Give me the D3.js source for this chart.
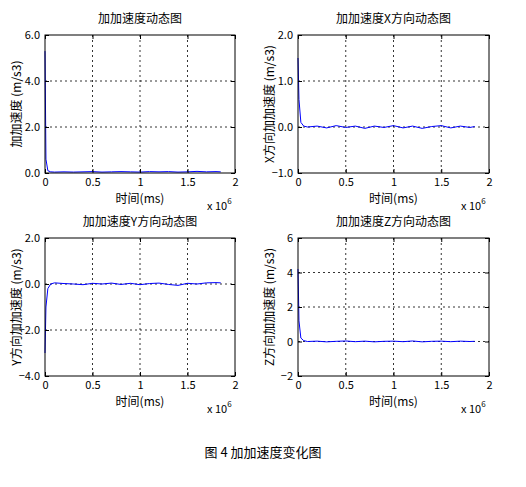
<!DOCTYPE html><html><head><meta charset="utf-8">
<script src="https://d3js.org/d3.v7.min.js"></script>
<style>body{margin:0;background:#fff}text{font-family:"Noto Sans CJK SC","Liberation Sans",sans-serif}</style></head><body>
<svg id="c" width="526" height="487"></svg>
<script>
const xTicks=[0,0.5,1,1.5,2];
const titles=["加加速度动态图","加加速度X方向动态图","加加速度Y方向动态图","加加速度Z方向动态图"];
const yLabels=["加加速度 (m/s3)","X方向加加速度 (m/s3)","Y方向加加速度 (m/s3)","Z方向加加速度 (m/s3)"];
const yDomains=[[0,6],[-1,2],[-4,2],[-2,6]];
const yTicks=[[0,2,4,6],[-1,0,1,2],[-4,-2,0,2],[-2,0,2,4,6]];
const xs=[0,0.01,0.03,0.06,0.1,0.2,0.3,0.4,0.5,0.6,0.7,0.8,0.9,1.0,1.1,1.2,1.3,1.4,1.5,1.6,1.7,1.8,1.85];
const s0=[5.3,0.6,0.1,0.05,0.04,0.05,0.04,0.05,0.06,0.04,0.05,0.06,0.05,0.04,0.06,0.05,0.06,0.04,0.05,0.07,0.05,0.06,0.05];
const s1=[1.5,0.6,0.1,0.02,0.0,0.02,-0.02,0.03,-0.01,0.02,-0.03,0.02,-0.01,0.03,-0.02,0.02,-0.03,0.01,0.03,-0.02,0.02,-0.01,0.01];
const s2=[-3.0,-1.0,-0.2,0.0,0.05,0.02,0.0,-0.03,0.03,0.0,0.04,-0.02,0.03,-0.03,0.02,0.04,-0.02,-0.06,0.03,0.0,0.05,0.06,0.05];
const s3=[4.2,1.2,0.2,0.05,0.0,0.02,-0.02,0.01,0.03,-0.01,0.02,-0.02,0.01,0.02,-0.01,0.03,-0.02,0.01,0.02,-0.01,0.02,0.0,0.01];
const series=[s0,s1,s2,s3];
const svg=d3.select("#c");
const boxes=[[45,235,35,173],[298,489,35,173],[45,235,238,376],[298,489,238,376]];
boxes.forEach((b,i)=>{
 const [x0,x1,y0,y1]=b;
 const x=d3.scaleLinear().domain([0,2]).range([x0,x1]);
 const y=d3.scaleLinear().domain(yDomains[i]).range([y1,y0]);
 const g=svg.append("g");
 xTicks.forEach(t=>{ if(t>0&&t<2) g.append("line").attr("x1",x(t)).attr("x2",x(t)).attr("y1",y0).attr("y2",y1).attr("stroke","#000").attr("stroke-dasharray","2,3").attr("stroke-width",0.8);});
 yTicks[i].forEach(t=>{ if(t>yDomains[i][0]&&t<yDomains[i][1]) g.append("line").attr("x1",x0).attr("x2",x1).attr("y1",y(t)).attr("y2",y(t)).attr("stroke","#000").attr("stroke-dasharray","2,3").attr("stroke-width",0.8);});
 g.append("path").datum(xs.map((v,k)=>[v,series[i][k]])).attr("fill","none").attr("stroke","#0000ff").attr("stroke-width",1)
  .attr("d",d3.line().x(d=>x(d[0])).y(d=>y(d[1])));
 g.append("rect").attr("x",x0).attr("y",y0).attr("width",x1-x0).attr("height",y1-y0).attr("fill","none").attr("stroke","#000");
 const ax=g.append("g").attr("transform",`translate(0,${y1})`).call(d3.axisBottom(x).tickValues(xTicks).tickSize(-4).tickPadding(5).tickFormat(d3.format("")));
 const ay=g.append("g").attr("transform",`translate(${x0},0)`).call(d3.axisLeft(y).tickValues(yTicks[i]).tickSize(-4).tickPadding(5));
 [ax,ay].forEach(a=>{a.select(".domain").remove();a.selectAll("text").attr("font-size",11).attr("font-family","Liberation Sans");});
 g.append("g").attr("transform",`translate(${x1},${y0})`).call(d3.axisLeft(y.copy().range([0,y1-y0])).tickValues(yTicks[i]).tickSize(4).tickFormat("")).select(".domain").remove();
 g.append("g").attr("transform",`translate(0,${y0})`).call(d3.axisTop(x).tickValues(xTicks).tickSize(-4).tickFormat("")).select(".domain").remove();
 g.append("text").attr("x",(x0+x1)/2).attr("y",y0-12).attr("text-anchor","middle").attr("font-size",12).text(titles[i]);
 g.append("text").attr("x",(x0+x1)/2).attr("y",y1+30).attr("text-anchor","middle").attr("font-size",12).text("时间(ms)");
 g.append("text").attr("transform",`translate(${x0-24},${(y0+y1)/2}) rotate(-90)`).attr("text-anchor","middle").attr("font-size",12).text(yLabels[i]);
 const e=g.append("text").attr("x",x1-28).attr("y",y1+37).attr("font-size",11).attr("font-family","Liberation Sans").text("x 10");
 e.append("tspan").attr("dy",-6).attr("font-size",8).text("6");
});
svg.append("text").attr("x",263).attr("y",457).attr("text-anchor","middle").attr("font-size",13).text("图 4  加加速度变化图");
</script></body></html>
